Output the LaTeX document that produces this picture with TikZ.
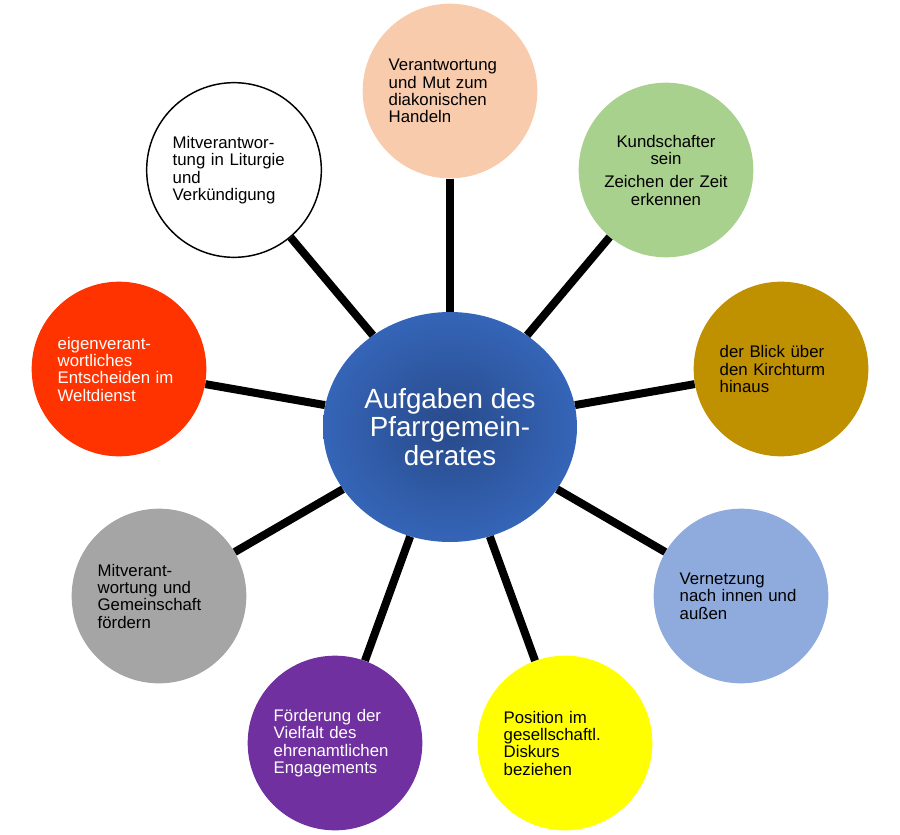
\documentclass[tikz,border=0pt]{standalone}
\usepackage{fontspec}
\setmainfont{Liberation Sans}
\usetikzlibrary{shapes.geometric}
\definecolor{peach}{HTML}{F8CBAD}
\definecolor{leaf}{HTML}{A9D18E}
\definecolor{ochre}{HTML}{BF9000}
\definecolor{sky}{HTML}{8FAADC}
\definecolor{lemon}{HTML}{FFFF00}
\definecolor{violet}{HTML}{7030A0}
\definecolor{stone}{HTML}{A5A5A5}
\definecolor{flame}{HTML}{FF3300}
\definecolor{ctrin}{RGB}{40,74,138}
\definecolor{ctrout}{RGB}{53,101,184}

\begin{document}
\begin{tikzpicture}[x=0.75pt, y=-0.75pt,
    topic/.style={circle, minimum size=131pt, inner sep=0pt, text width=92pt,
                  align=left, font=\fontsize{12.6}{13}\selectfont},
    spoke/.style={line width=6pt, color=black}]
                \useasboundingbox (0, 0) rectangle (900, 835);
                \node[ellipse, minimum width=190.5pt, minimum height=172.5pt, inner sep=0pt,
                      inner color=ctrin, outer color=ctrout, text=white, align=center,
                      font=\fontsize{20.8}{21.2}\selectfont] (ctr) at (450, 427)
                    {Aufgaben des\\Pfarrgemein-\\derates};
                \node[topic, fill=peach] (dia) at (450, 91)
                    {Verantwortung\\und Mut zum\\diakonischen\\Handeln};
                \node[topic, fill=leaf, align=center, text width=110pt] (kund) at (666, 170)
                    {Kundschafter\\sein\\[4.5pt]Zeichen der Zeit\\erkennen};
                \node[topic, fill=ochre] (blick) at (781, 369)
                    {der Blick über\\den Kirchturm\\hinaus};
                \node[topic, fill=sky] (netz) at (741, 596)
                    {Vernetzung\\nach innen und\\außen};
                \node[topic, fill=lemon] (pos) at (565, 743)
                    {Position im\\gesellschaftl.\\Diskurs\\beziehen};
                \node[topic, fill=violet, text=white] (viel) at (335, 743)
                    {Förderung der\\Vielfalt des\\ehrenamtlichen\\Engagements};
                \node[topic, fill=stone] (gem) at (159, 596)
                    {Mitverant-\\wortung und\\Gemeinschaft\\fördern};
                \node[topic, fill=flame, text=white] (welt) at (119, 369)
                    {eigenverant-\\wortliches\\Entscheiden im\\Weltdienst};
                \node[topic, fill=white, draw=black, line width=1.1pt] (lit) at (234, 170)
                    {Mitverantwor-\\tung in Liturgie\\und\\Verkündigung};
                \foreach \t in {dia, kund, blick, netz, pos, viel, gem, welt, lit}
                    \draw[spoke] (\t) -- (ctr);
            \end{tikzpicture}
\end{document}
